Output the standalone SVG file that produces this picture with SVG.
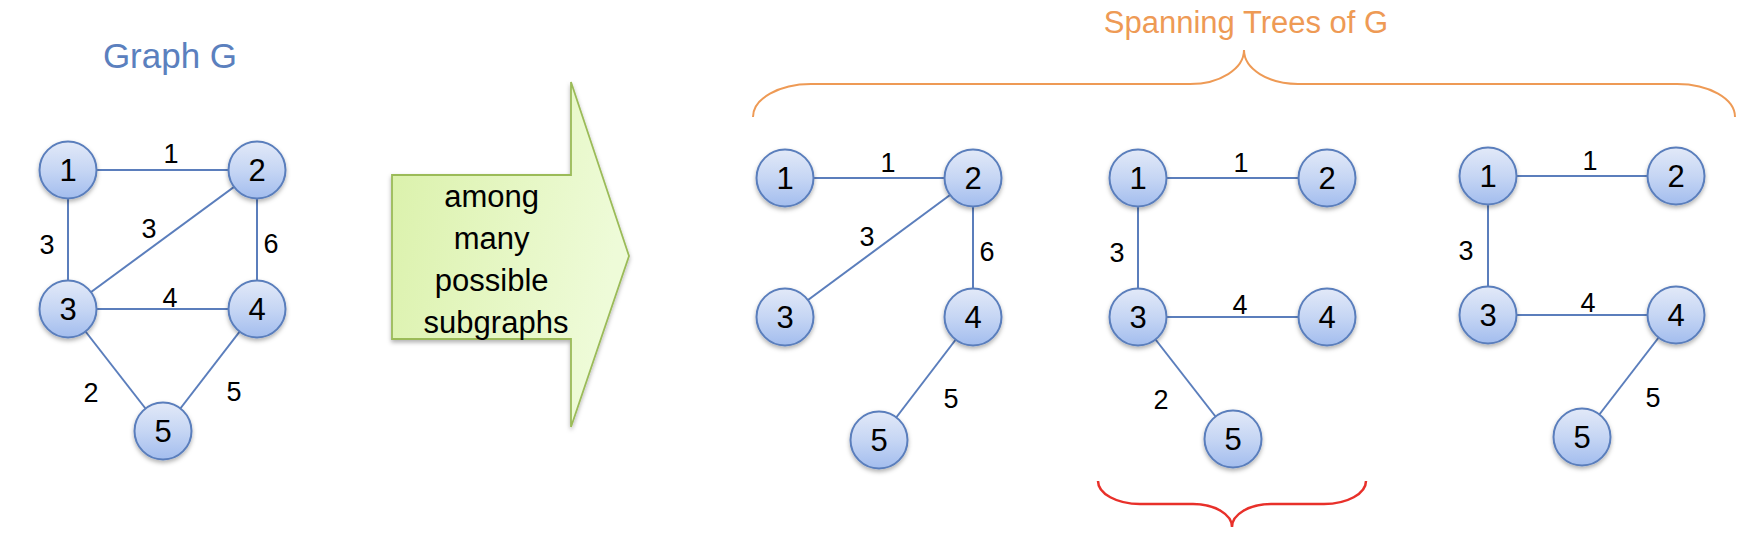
<svg xmlns="http://www.w3.org/2000/svg" width="1754" height="539" viewBox="0 0 1754 539">
<style>
.edge{stroke:#5b7ebc;stroke-width:2;fill:none}
.node circle{fill:url(#ng);stroke:#5a7ebc;stroke-width:2;filter:url(#sh)}
.node text{font-family:"Liberation Sans",Arial,sans-serif;font-size:31px;fill:#000;text-anchor:middle}
.lbl{font-family:"Liberation Sans",Arial,sans-serif;font-size:27px;fill:#000;text-anchor:middle}
.title{font-family:"Liberation Sans",Arial,sans-serif;text-anchor:middle}
</style>
<defs>
<linearGradient id="ng" x1="0" y1="0" x2="0" y2="1">
<stop offset="0" stop-color="#e2e9f8"/>
<stop offset="0.5" stop-color="#c6d6f4"/>
<stop offset="1" stop-color="#a3bdee"/>
</linearGradient>
<linearGradient id="ag" x1="0" y1="0" x2="1" y2="0.3">
<stop offset="0" stop-color="#daf1a9"/>
<stop offset="1" stop-color="#eefbd8"/>
</linearGradient>
<filter id="sh" x="-30%" y="-30%" width="160%" height="170%">
<feDropShadow dx="0" dy="2.5" stdDeviation="2" flood-color="#000" flood-opacity="0.3"/>
</filter>
</defs>
<rect width="1754" height="539" fill="#fff"/>

<text class="title" x="170" y="68" font-size="35" fill="#5b80be">Graph G</text>
<text class="title" x="1246" y="33" font-size="31" fill="#ee9a55">Spanning Trees of G</text>

<g id="braces" fill="none">
<path d="M753,117 A58,33 0 0 1 811,84 L1190,84 A54,34 0 0 0 1244,50 A54,34 0 0 0 1298,84 L1677,84 A58,33 0 0 1 1735,117" stroke="#ee9a55" stroke-width="2"/>
<path d="M1098,481 A42,23 0 0 0 1140,504 L1193,504 A39,23 0 0 1 1232,527 A39,23 0 0 1 1271,504 L1324,504 A42,23 0 0 0 1366,481" stroke="#e8302a" stroke-width="2.5"/>
</g>

<g id="arrow">
<path d="M392,175 L571,175 L571,82 L629,256 L571,427 L571,339 L392,339 Z" fill="url(#ag)" stroke="#9bbb59" stroke-width="1.8" filter="url(#sh)"/>
<text class="title" font-size="31" fill="#000">
<tspan x="496" y="207">among</tspan>
<tspan x="496" y="249">many</tspan>
<tspan x="496" y="291">possible</tspan>
<tspan x="496" y="333">subgraphs</tspan>
</text>
</g>

<g id="connectors">
<line class="edge" x1="68" y1="170" x2="257" y2="170"/>
<line class="edge" x1="68" y1="170" x2="68" y2="309"/>
<line class="edge" x1="257" y1="170" x2="68" y2="309"/>
<line class="edge" x1="257" y1="170" x2="257" y2="309"/>
<line class="edge" x1="68" y1="309" x2="257" y2="309"/>
<line class="edge" x1="68" y1="309" x2="163" y2="431"/>
<line class="edge" x1="257" y1="309" x2="163" y2="431"/>

<line class="edge" x1="785" y1="178" x2="973" y2="178"/>
<line class="edge" x1="973" y1="178" x2="785" y2="317"/>
<line class="edge" x1="973" y1="178" x2="973" y2="317"/>
<line class="edge" x1="973" y1="317" x2="879" y2="440"/>

<line class="edge" x1="1138" y1="178" x2="1327" y2="178"/>
<line class="edge" x1="1138" y1="178" x2="1138" y2="317"/>
<line class="edge" x1="1138" y1="317" x2="1327" y2="317"/>
<line class="edge" x1="1138" y1="317" x2="1233" y2="439"/>

<line class="edge" x1="1488" y1="176" x2="1676" y2="176"/>
<line class="edge" x1="1488" y1="176" x2="1488" y2="315"/>
<line class="edge" x1="1488" y1="315" x2="1676" y2="315"/>
<line class="edge" x1="1676" y1="315" x2="1582" y2="437"/>
</g>

<g id="edge-labels">
<text class="lbl" x="171" y="163">1</text>
<text class="lbl" x="47" y="254">3</text>
<text class="lbl" x="149" y="238">3</text>
<text class="lbl" x="271" y="253">6</text>
<text class="lbl" x="170" y="307">4</text>
<text class="lbl" x="91" y="402">2</text>
<text class="lbl" x="234" y="401">5</text>

<text class="lbl" x="888" y="172">1</text>
<text class="lbl" x="867" y="246">3</text>
<text class="lbl" x="987" y="261">6</text>
<text class="lbl" x="951" y="408">5</text>

<text class="lbl" x="1241" y="172">1</text>
<text class="lbl" x="1117" y="262">3</text>
<text class="lbl" x="1240" y="314">4</text>
<text class="lbl" x="1161" y="409">2</text>

<text class="lbl" x="1590" y="170">1</text>
<text class="lbl" x="1466" y="260">3</text>
<text class="lbl" x="1588" y="312">4</text>
<text class="lbl" x="1653" y="407">5</text>
</g>

<g id="g-n1" class="node"><circle cx="68" cy="170" r="28.5"/><text x="68" y="181">1</text></g>
<g id="g-n2" class="node"><circle cx="257" cy="170" r="28.5"/><text x="257" y="181">2</text></g>
<g id="g-n3" class="node"><circle cx="68" cy="309" r="28.5"/><text x="68" y="320">3</text></g>
<g id="g-n4" class="node"><circle cx="257" cy="309" r="28.5"/><text x="257" y="320">4</text></g>
<g id="g-n5" class="node"><circle cx="163" cy="431" r="28.5"/><text x="163" y="442">5</text></g>

<g id="t1-n1" class="node"><circle cx="785" cy="178" r="28.5"/><text x="785" y="189">1</text></g>
<g id="t1-n2" class="node"><circle cx="973" cy="178" r="28.5"/><text x="973" y="189">2</text></g>
<g id="t1-n3" class="node"><circle cx="785" cy="317" r="28.5"/><text x="785" y="328">3</text></g>
<g id="t1-n4" class="node"><circle cx="973" cy="317" r="28.5"/><text x="973" y="328">4</text></g>
<g id="t1-n5" class="node"><circle cx="879" cy="440" r="28.5"/><text x="879" y="451">5</text></g>

<g id="t2-n1" class="node"><circle cx="1138" cy="178" r="28.5"/><text x="1138" y="189">1</text></g>
<g id="t2-n2" class="node"><circle cx="1327" cy="178" r="28.5"/><text x="1327" y="189">2</text></g>
<g id="t2-n3" class="node"><circle cx="1138" cy="317" r="28.5"/><text x="1138" y="328">3</text></g>
<g id="t2-n4" class="node"><circle cx="1327" cy="317" r="28.5"/><text x="1327" y="328">4</text></g>
<g id="t2-n5" class="node"><circle cx="1233" cy="439" r="28.5"/><text x="1233" y="450">5</text></g>

<g id="t3-n1" class="node"><circle cx="1488" cy="176" r="28.5"/><text x="1488" y="187">1</text></g>
<g id="t3-n2" class="node"><circle cx="1676" cy="176" r="28.5"/><text x="1676" y="187">2</text></g>
<g id="t3-n3" class="node"><circle cx="1488" cy="315" r="28.5"/><text x="1488" y="326">3</text></g>
<g id="t3-n4" class="node"><circle cx="1676" cy="315" r="28.5"/><text x="1676" y="326">4</text></g>
<g id="t3-n5" class="node"><circle cx="1582" cy="437" r="28.5"/><text x="1582" y="448">5</text></g>
</svg>
